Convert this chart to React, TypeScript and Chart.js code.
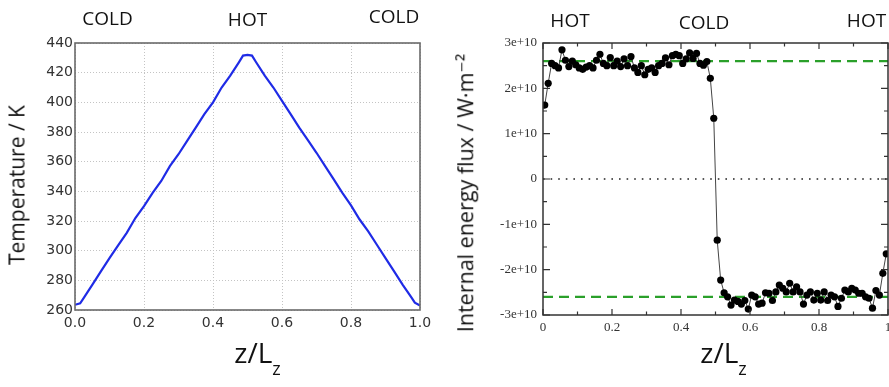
import React, { useEffect, useRef } from "react";
import { Chart, registerables } from "chart.js";

Chart.register(...registerables);

// ---------- Data: left panel (temperature profile) ----------
const tempZ = [
  0, 0.015, 0.025, 0.05, 0.075, 0.1, 0.125, 0.15, 0.175, 0.2, 0.225, 0.25, 0.275, 0.3,
  0.325, 0.35, 0.375, 0.4, 0.425, 0.45, 0.475, 0.487, 0.5, 0.513, 0.525, 0.55, 0.575,
  0.6, 0.625, 0.65, 0.675, 0.7, 0.725, 0.75, 0.775, 0.8, 0.825, 0.85, 0.875, 0.9, 0.925,
  0.95, 0.975, 0.985, 1.0,
];
const tempK = [
  263.5, 264.5, 268, 277, 286, 295, 303.5, 312, 322, 330, 339, 347, 357, 365,
  374, 383, 392, 400, 410, 418, 427, 431.5, 432, 431.5, 427, 418, 410,
  401, 392, 383, 374.5, 366, 357, 348, 339, 330.5, 321, 313, 304, 295, 286,
  277, 268.5, 265, 263,
];
const tempXTicks = { min: 0, max: 1, step: 0.2 };
const tempYTicks = { min: 260, max: 440, step: 20 };
const leftTopLabels = ["COLD", "HOT", "COLD"];

// ---------- Data: right panel (internal energy flux, units of 1e10 W/m^2) ----------
const fluxZ = [
  0.005, 0.015, 0.025, 0.035, 0.045, 0.055, 0.065, 0.075, 0.085, 0.095,
  0.105, 0.115, 0.125, 0.135, 0.145, 0.155, 0.165, 0.175, 0.185, 0.195,
  0.205, 0.215, 0.225, 0.235, 0.245, 0.255, 0.265, 0.275, 0.285, 0.295,
  0.305, 0.315, 0.325, 0.335, 0.345, 0.355, 0.365, 0.375, 0.385, 0.395,
  0.405, 0.415, 0.425, 0.435, 0.445, 0.455, 0.465, 0.475, 0.485, 0.495,
  0.505, 0.515, 0.525, 0.535, 0.545, 0.555, 0.565, 0.575, 0.585, 0.595,
  0.605, 0.615, 0.625, 0.635, 0.645, 0.655, 0.665, 0.675, 0.685, 0.695,
  0.705, 0.715, 0.725, 0.735, 0.745, 0.755, 0.765, 0.775, 0.785, 0.795,
  0.805, 0.815, 0.825, 0.835, 0.845, 0.855, 0.865, 0.875, 0.885, 0.895,
  0.905, 0.915, 0.925, 0.935, 0.945, 0.955, 0.965, 0.975, 0.985, 0.995,
];
const fluxE10 = [
  1.63, 2.11, 2.55, 2.5, 2.45, 2.85, 2.62, 2.48, 2.6, 2.52,
  2.45, 2.42, 2.47, 2.5, 2.45, 2.62, 2.75, 2.55, 2.5, 2.68,
  2.5, 2.6, 2.48, 2.65, 2.5, 2.7, 2.45, 2.35, 2.5, 2.3,
  2.42, 2.45, 2.35, 2.5, 2.55, 2.67, 2.52, 2.72, 2.75, 2.72,
  2.55, 2.65, 2.78, 2.66, 2.77, 2.55, 2.51, 2.59, 2.22, 1.34,
  -1.35, -2.23, -2.51, -2.6, -2.78, -2.67, -2.7, -2.76, -2.68, -2.87,
  -2.56, -2.6, -2.76, -2.74, -2.51, -2.52, -2.68, -2.49, -2.34, -2.41,
  -2.49, -2.3, -2.49, -2.38, -2.49, -2.76, -2.56, -2.49, -2.67, -2.52,
  -2.67, -2.49, -2.68, -2.56, -2.6, -2.81, -2.63, -2.45, -2.49, -2.41,
  -2.45, -2.52, -2.52, -2.6, -2.63, -2.85, -2.46, -2.56, -2.08, -1.65,
];
const fluxReference = 2.6;
const fluxXTicks = { min: 0, max: 1, step: 0.2 };
const fluxYTicks = { min: -3, max: 3, step: 1 };
const rightTopLabels = ["HOT", "COLD", "HOT"];

const SANS = '"Open Sans", "DejaVu Sans", sans-serif';

function framePlugin(id: string, color: string, width: number, inner: boolean) {
  return {
    id,
    afterDatasetsDraw(chart: any) {
      const { ctx, chartArea } = chart;
      const { left, right, top, bottom } = chartArea;
      ctx.save();
      ctx.strokeStyle = color;
      ctx.lineWidth = width;
      if (inner) {
        const x = chart.scales.x;
        const y = chart.scales.y;
        ctx.lineWidth = 1.2;
        ctx.beginPath();
        for (let i = 0; i <= 10; i++) {
          const px = x.getPixelForValue(i / 10);
          const len = i % 2 === 0 ? 6 : 3.5;
          ctx.moveTo(px, bottom);
          ctx.lineTo(px, bottom - len);
          ctx.moveTo(px, top);
          ctx.lineTo(px, top + len);
        }
        for (let i = -6; i <= 6; i++) {
          const py = y.getPixelForValue(i / 2);
          const len = i % 2 === 0 ? 7 : 4;
          ctx.moveTo(left, py);
          ctx.lineTo(left + len, py);
          ctx.moveTo(right, py);
          ctx.lineTo(right - len, py);
        }
        ctx.stroke();
        ctx.lineWidth = width;
      }
      ctx.strokeRect(left, top, right - left, bottom - top);
      ctx.restore();
    },
  };
}

type LabelProps = {
  x: number;
  y: number;
  size: number;
  rotate?: boolean;
  children: React.ReactNode;
};

function Label({ x, y, size, rotate, children }: LabelProps) {
  return (
    <div
      style={{
        position: "absolute",
        left: x,
        top: y,
        transform: `translate(-50%, -50%)${rotate ? " rotate(-90deg)" : ""}`,
        fontSize: size,
        lineHeight: 1,
        whiteSpace: "nowrap",
        fontFamily: SANS,
        color: "#111",
      }}
    >
      {children}
    </div>
  );
}

export default function App() {
  const leftRef = useRef<HTMLCanvasElement>(null);
  const rightRef = useRef<HTMLCanvasElement>(null);

  useEffect(() => {
    const left = new Chart(leftRef.current!, {
      type: "scatter",
      data: {
        datasets: [
          {
            data: tempZ.map((z, i) => ({ x: z, y: tempK[i] })),
            showLine: true,
            borderColor: "#1f2be6",
            borderWidth: 2.2,
            pointRadius: 0,
            tension: 0,
          },
        ],
      },
      options: {
        responsive: false,
        animation: false,
        layout: { padding: { top: 43, right: 20, left: 0, bottom: 0 } },
        plugins: { legend: { display: false }, tooltip: { enabled: false } },
        scales: {
          x: {
            type: "linear",
            min: tempXTicks.min,
            max: tempXTicks.max,
            afterFit: (s: any) => {
              s.height = 77;
            },
            ticks: {
              stepSize: tempXTicks.step,
              callback: (v: any) => Number(v).toFixed(1),
              font: { family: '"DejaVu Sans"', size: 14 },
              color: "#333",
              padding: 5,
              maxRotation: 0,
              autoSkip: false,
            },
            grid: { color: "#c4c4c4", lineWidth: 1, drawTicks: false },
            border: { display: false, dash: [1, 2] },
          },
          y: {
            type: "linear",
            min: tempYTicks.min,
            max: tempYTicks.max,
            afterFit: (s: any) => {
              s.width = 75;
            },
            ticks: {
              stepSize: tempYTicks.step,
              font: { family: '"DejaVu Sans"', size: 14 },
              color: "#333",
              padding: 2,
              autoSkip: false,
            },
            grid: { color: "#c4c4c4", lineWidth: 1, drawTicks: false },
            border: { display: false, dash: [1, 2] },
          },
        },
      },
      plugins: [framePlugin("leftFrame", "#6a6a6a", 1.6, false)],
    } as any);

    const flat = (v: number) => [
      { x: fluxXTicks.min, y: v },
      { x: fluxXTicks.max, y: v },
    ];

    const right = new Chart(rightRef.current!, {
      type: "scatter",
      data: {
        datasets: [
          {
            data: fluxZ.map((z, i) => ({ x: z, y: fluxE10[i] })),
            showLine: true,
            borderColor: "#444",
            borderWidth: 1,
            pointRadius: 3.6,
            pointBackgroundColor: "#000",
            pointBorderWidth: 0,
            order: 0,
          },
          {
            data: flat(fluxReference),
            showLine: true,
            borderColor: "#2aa02a",
            borderWidth: 2.4,
            borderDash: [10, 6],
            pointRadius: 0,
            order: 1,
          },
          {
            data: flat(-fluxReference),
            showLine: true,
            borderColor: "#2aa02a",
            borderWidth: 2.4,
            borderDash: [10, 6],
            pointRadius: 0,
            order: 1,
          },
          {
            data: flat(0),
            showLine: true,
            borderColor: "#222",
            borderWidth: 1.6,
            borderDash: [1.6, 6],
            pointRadius: 0,
            order: 2,
          },
        ],
      },
      options: {
        responsive: false,
        animation: false,
        layout: { padding: { top: 43, right: 12, left: 0, bottom: 0 } },
        plugins: { legend: { display: false }, tooltip: { enabled: false } },
        scales: {
          x: {
            type: "linear",
            min: fluxXTicks.min,
            max: fluxXTicks.max,
            afterFit: (s: any) => {
              s.height = 72;
            },
            ticks: {
              stepSize: fluxXTicks.step,
              callback: (v: any) => String(Number(Number(v).toFixed(1))),
              font: { family: '"Liberation Serif"', size: 13 },
              color: "#333",
              padding: 5,
              maxRotation: 0,
              autoSkip: false,
            },
            grid: { display: false, drawTicks: false },
            border: { display: false },
          },
          y: {
            type: "linear",
            min: fluxYTicks.min,
            max: fluxYTicks.max,
            afterFit: (s: any) => {
              s.width = 103;
            },
            ticks: {
              stepSize: fluxYTicks.step,
              callback: (v: any) => (Number(v) === 0 ? "0" : `${Number(v)}e+10`),
              font: { family: '"Liberation Serif"', size: 13 },
              color: "#333",
              padding: 6,
              autoSkip: false,
            },
            grid: { display: false, drawTicks: false },
            border: { display: false },
          },
        },
      },
      plugins: [framePlugin("rightFrame", "#333", 1.5, true)],
    } as any);

    return () => {
      left.destroy();
      right.destroy();
    };
  }, []);

  const leftTopPos = [
    [107.5, 18],
    [247.5, 18.5],
    [394, 15.5],
  ];
  const rightTopPos = [
    [570, 20],
    [704, 21.5],
    [866.5, 20],
  ];

  return (
    <div
      style={{
        position: "absolute",
        left: 0,
        top: 0,
        width: 889,
        height: 387,
        overflow: "hidden",
        background: "#fff",
      }}
    >
      <canvas
        ref={leftRef}
        width={440}
        height={387}
        style={{ position: "absolute", left: 0, top: 0, width: 440, height: 387 }}
      />
      <canvas
        ref={rightRef}
        width={460}
        height={387}
        style={{ position: "absolute", left: 440, top: 0, width: 460, height: 387 }}
      />
      {leftTopLabels.map((t, i) => (
        <Label key={"l" + i} x={leftTopPos[i][0]} y={leftTopPos[i][1]} size={19}>
          {t}
        </Label>
      ))}
      {rightTopLabels.map((t, i) => (
        <Label key={"r" + i} x={rightTopPos[i][0]} y={rightTopPos[i][1]} size={19}>
          {t}
        </Label>
      ))}
      <Label x={17} y={185} size={21} rotate>
        Temperature / K
      </Label>
      <Label x={465} y={193} size={21.5} rotate>
        Internal energy flux / W·m⁻²
      </Label>
      <Label x={257.5} y={352} size={28}>
        z/L<span style={{ fontSize: 18, position: "relative", top: 12 }}>z</span>
      </Label>
      <Label x={723.5} y={352} size={28}>
        z/L<span style={{ fontSize: 18, position: "relative", top: 12 }}>z</span>
      </Label>
    </div>
  );
}
